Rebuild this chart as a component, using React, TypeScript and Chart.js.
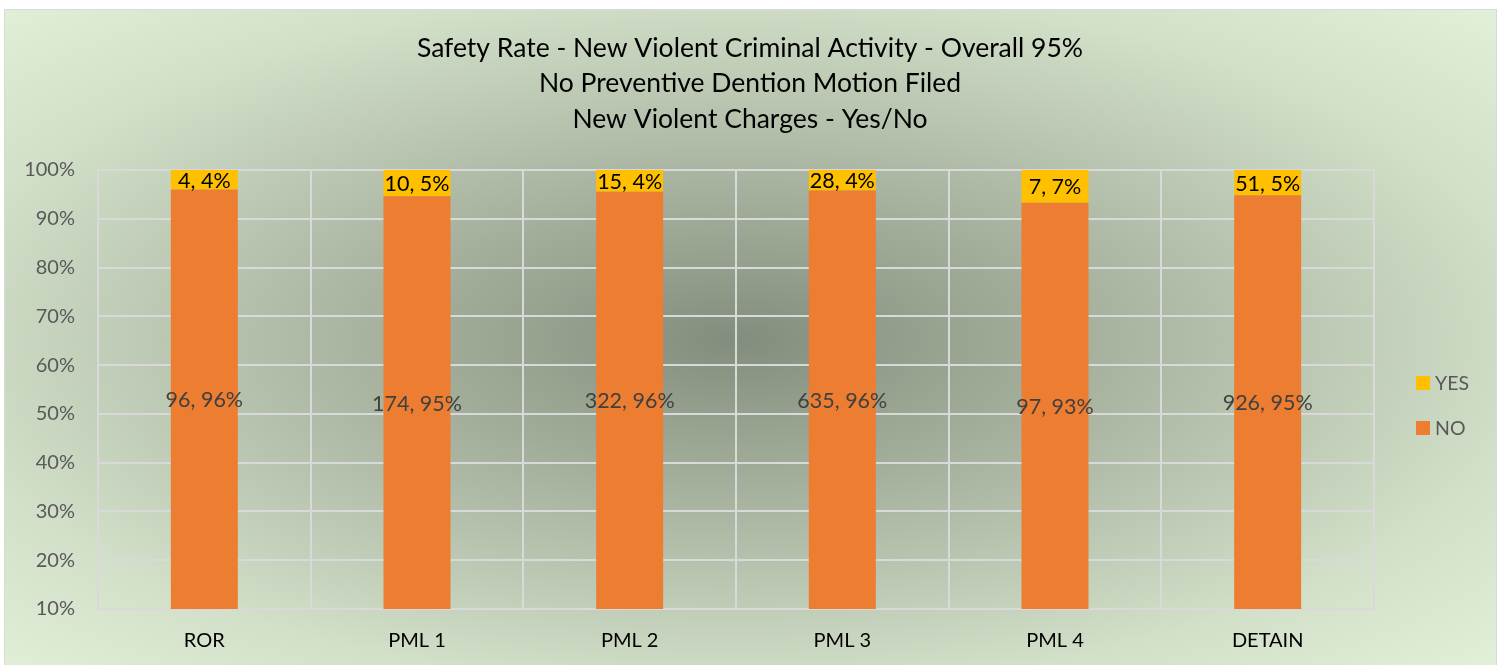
import React, { useEffect, useRef } from "react";
import { Chart, registerables } from "chart.js";

Chart.register(...registerables);

const categories = ["ROR", "PML 1", "PML 2", "PML 3", "PML 4", "DETAIN"];
const noCounts = [96, 174, 322, 635, 97, 926];
const yesCounts = [4, 10, 15, 28, 7, 51];
const noPct = [96, 94.6, 95.55, 95.8, 93.3, 94.8];
const yesPct = [4, 5.4, 4.45, 4.2, 6.7, 5.2];
const titleLines = [
  "Safety Rate - New Violent Criminal Activity - Overall 95%",
  "No Preventive Dention Motion Filed",
  "New Violent Charges - Yes/No",
];
const seriesNames = ["NO", "YES"];
const seriesColors = ["#ED7D31", "#FFC000"];
const countsBySeries = [noCounts, yesCounts];
const FONT = "Lato, 'Open Sans', sans-serif";

const decorPlugin = {
  id: "decor",
  afterDatasetsDraw(chart: any) {
    const ctx = chart.ctx;
    const area = chart.chartArea;
    ctx.save();
    // data labels
    chart.data.datasets.forEach((ds: any, di: number) => {
      const meta = chart.getDatasetMeta(di);
      meta.data.forEach((el: any, i: number) => {
        const top = Math.max(Math.min(el.y, el.base), area.top);
        const bot = Math.min(Math.max(el.y, el.base), area.bottom);
        const cy = (top + bot) / 2 + 1;
        ctx.font = `21.5px ${FONT}`;
        ctx.fillStyle = di === 0 ? "#404040" : "#000000";
        ctx.textAlign = "center";
        ctx.textBaseline = "middle";
        ctx.fillText(`${countsBySeries[di][i]}, ${Math.round(ds.data[i])}%`, el.x, cy);
      });
    });
    // title
    ctx.fillStyle = "#000000";
    ctx.font = `26.5px ${FONT}`;
    ctx.textAlign = "center";
    ctx.textBaseline = "middle";
    titleLines.forEach((t, i) => ctx.fillText(t, 745, 38 + i * 35.5));
    // legend (YES on top)
    const order = [1, 0];
    order.forEach((si, k) => {
      const cy = 373 + k * 45;
      ctx.fillStyle = seriesColors[si];
      ctx.fillRect(1411, cy - 7, 14, 14);
      ctx.fillStyle = "#595959";
      ctx.font = `19.5px ${FONT}`;
      ctx.textAlign = "left";
      ctx.textBaseline = "middle";
      ctx.fillText(seriesNames[si], 1430, cy + 1);
    });
    ctx.restore();
  },
};

export default function App() {
  const ref = useRef<HTMLCanvasElement>(null);
  useEffect(() => {
    if (!ref.current) return;
    const chart = new Chart(ref.current, {
      type: "bar",
      data: {
        labels: categories,
        datasets: [
          {
            label: seriesNames[0],
            data: noPct,
            backgroundColor: seriesColors[0],
            categoryPercentage: 1,
            barPercentage: 0.315,
          },
          {
            label: seriesNames[1],
            data: yesPct,
            backgroundColor: seriesColors[1],
            categoryPercentage: 1,
            barPercentage: 0.315,
          },
        ],
      },
      options: {
        animation: false,
        responsive: false,
        devicePixelRatio: 1,
        layout: { padding: { left: 0, top: 160, right: 122, bottom: 1 } },
        plugins: {
          legend: { display: false },
          title: { display: false },
          tooltip: { enabled: false },
        },
        scales: {
          x: {
            stacked: true,
            grid: { color: "#d9d9d9", lineWidth: 2, offset: true, drawTicks: false },
            border: { color: "#d9d9d9", width: 2 },
            ticks: { color: "#000000", font: { family: FONT, size: 20 }, padding: 20 },
            afterFit: (s: any) => {
              s.height = 60;
            },
          },
          y: {
            stacked: true,
            min: 10,
            max: 100,
            grid: { color: "#d9d9d9", lineWidth: 2, drawTicks: false },
            border: { color: "#d9d9d9", width: 2 },
            ticks: {
              stepSize: 10,
              color: "#595959",
              font: { family: FONT, size: 20 },
              padding: 23,
              callback: (v: any) => `${v}%`,
            },
            afterFit: (s: any) => {
              s.width = 93;
            },
          },
        },
      },
      plugins: [decorPlugin],
    });
    return () => chart.destroy();
  }, []);

  return (
    <div
      style={{
        position: "absolute",
        left: 4,
        top: 9,
        width: 1491,
        height: 660,
        border: "1px solid #d9d9d9",
        background:
          "radial-gradient(ellipse farthest-corner at 49% 50%, #838d7d 0%, #a8b49f 35%, #d2dfc9 75%, #e2efd9 100%)",
      }}
    >
      <canvas ref={ref} width={1491} height={660} style={{ display: "block" }} />
    </div>
  );
}
